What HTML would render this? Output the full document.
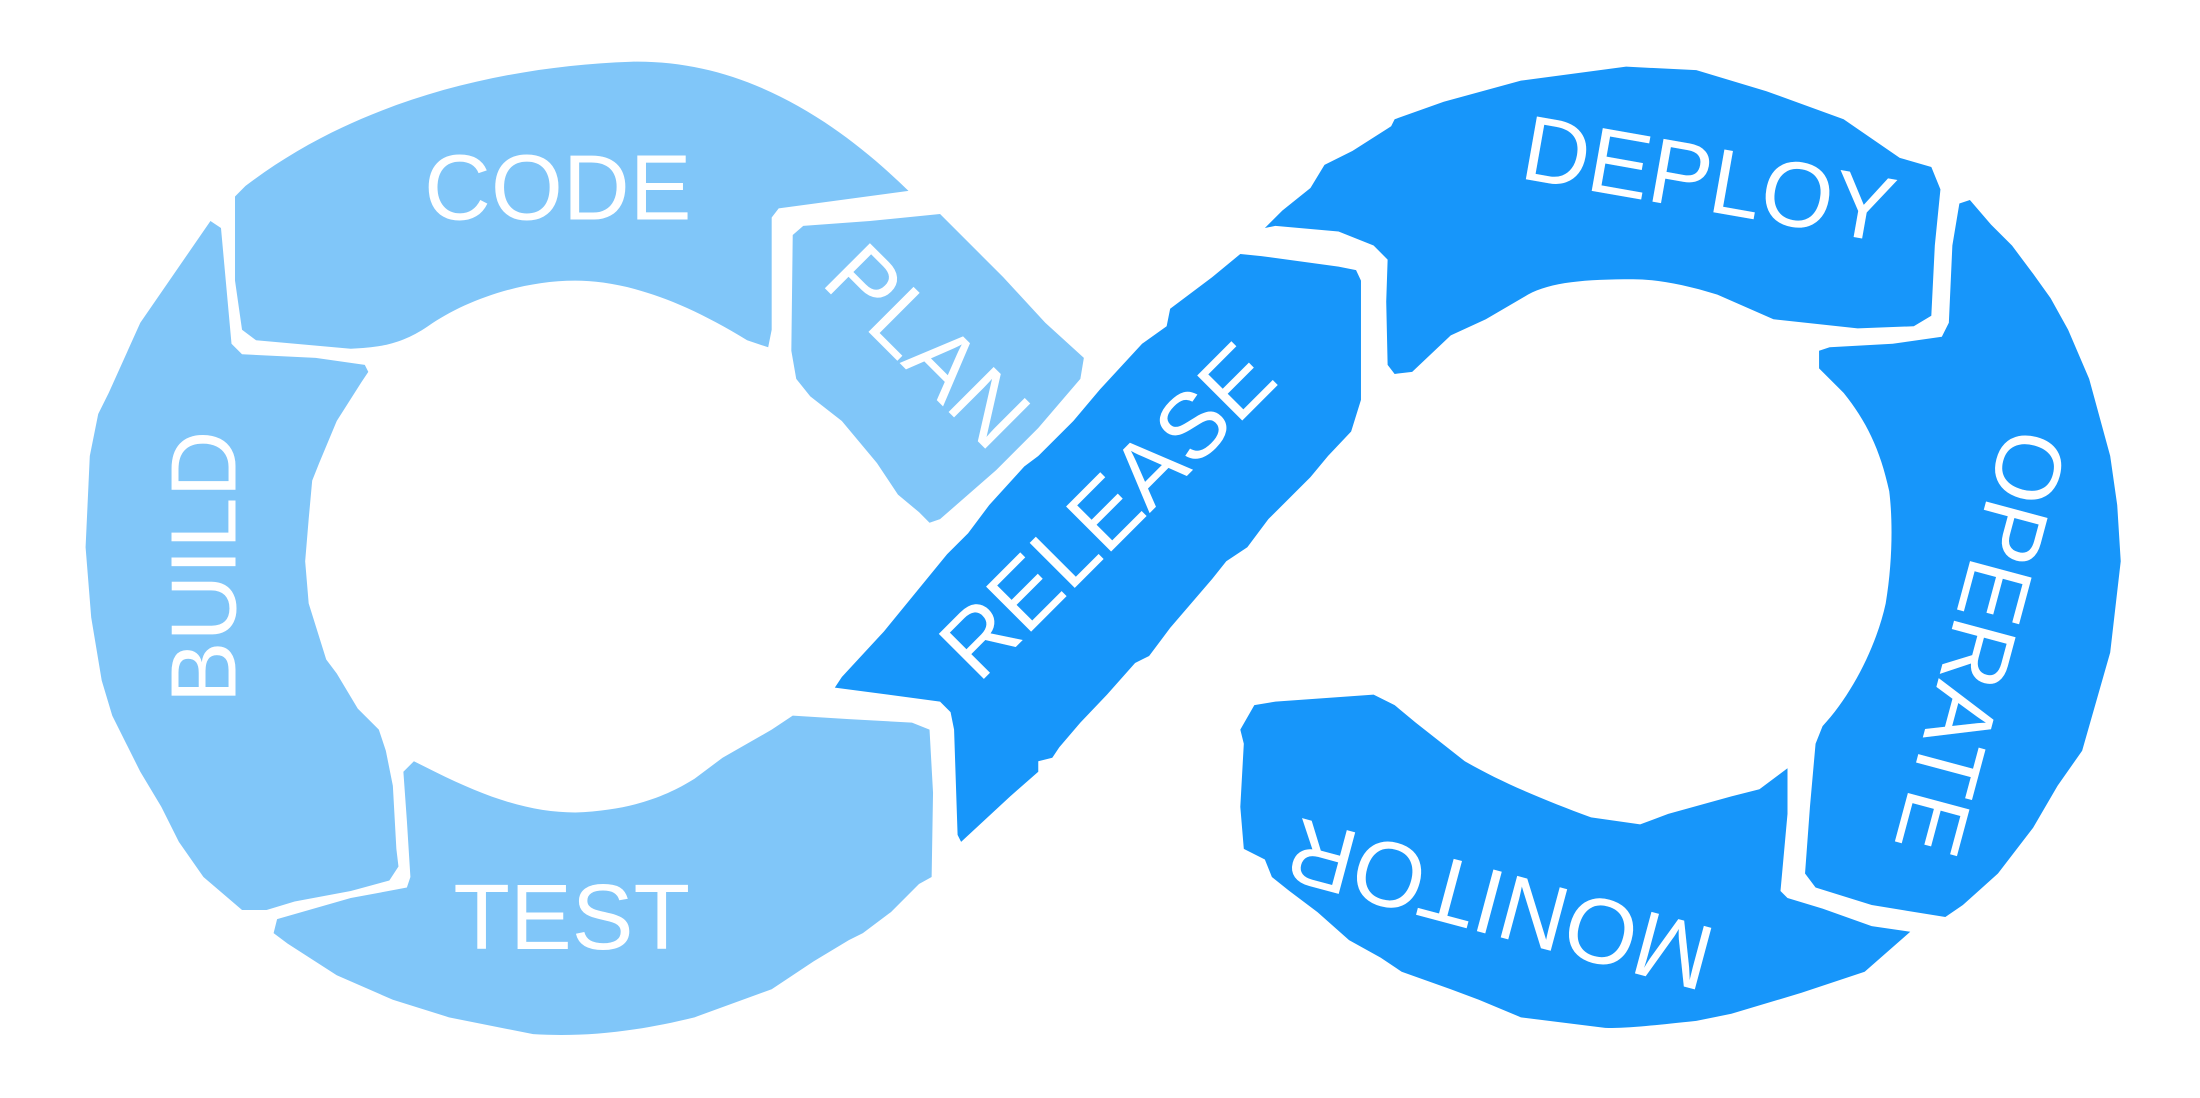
<!DOCTYPE html>
<html><head><meta charset="utf-8"><style>
html,body{margin:0;padding:0;background:#fff;}
svg{display:block;}
text{font-family:"Liberation Sans",sans-serif;fill:#fff;}
</style></head><body>
<svg width="2200" height="1098" viewBox="0 0 3136 1565" preserveAspectRatio="none" xmlns="http://www.w3.org/2000/svg">
<g fill="#80C6F9">
<path d="M335,280 L350,265 C500,150 700,95 900,88 C1050,85 1180,160 1295,272 L1110,297 L1100,310 L1100,470 L1095,495 L1065,485 C960,420 880,400 820,400 C740,400 660,430 610,465 C570,492 540,495 500,497 L365,485 L345,470 L335,400 Z"/>
<path d="M300,315 L315,325 L320,380 L330,490 L345,505 L450,510 L520,520 L525,530 L515,545 L480,600 L455,660 L445,685 L440,740 L435,800 L440,860 L465,940 L480,960 L510,1010 L540,1040 L550,1070 L560,1120 L565,1210 L568,1235 L555,1255 L500,1270 L420,1285 L380,1297 L345,1297 L290,1250 L255,1200 L230,1150 L200,1100 L180,1060 L160,1020 L145,970 L130,880 L122,780 L128,650 L140,590 L155,560 L200,460 Z"/>
<path d="M575,1100 L590,1085 L620,1100 C700,1140 760,1158 820,1158 C900,1155 950,1135 990,1110 L1030,1080 L1100,1040 L1130,1020 L1210,1025 L1300,1030 L1325,1040 L1330,1130 L1328,1250 L1310,1260 L1270,1300 L1230,1330 L1210,1340 L1160,1370 L1100,1410 L990,1450 C900,1472 830,1478 760,1474 L640,1450 L560,1425 L480,1390 L410,1345 L390,1330 L395,1310 L500,1280 L580,1265 L585,1250 L580,1170 Z"/>
<path d="M1130,335 L1145,322 L1240,315 L1340,305 L1400,365 L1430,395 L1490,460 L1545,510 L1540,540 L1480,610 L1420,670 L1340,740 L1325,745 L1310,730 L1280,705 L1250,660 L1200,600 L1155,565 L1135,540 L1128,500 Z"/>
</g>
<g fill="#1796FA">
<path d="M1190,980 L1200,965 L1260,900 L1350,790 L1380,760 L1410,720 L1460,665 L1480,650 L1530,600 L1568,555 L1628,490 L1663,465 L1668,440 L1728,395 L1768,362 L1798,365 L1908,380 L1933,385 L1940,400 L1940,570 L1926,615 L1893,650 L1868,680 L1848,700 L1808,740 L1778,780 L1748,800 L1728,825 L1698,860 L1668,895 L1638,935 L1618,945 L1578,990 L1540,1030 L1510,1065 L1500,1080 L1480,1085 L1480,1100 L1440,1135 L1370,1200 L1365,1190 L1360,1040 L1355,1015 L1340,1000 Z"/>
<path d="M1803,325 L1828,300 L1868,268 L1888,235 L1928,215 L1983,180 L1988,170 L2058,145 L2168,115 L2318,95 L2418,100 L2518,130 L2628,170 L2708,225 L2753,238 L2766,270 L2758,350 L2753,450 L2728,465 L2648,468 L2528,455 L2448,420 C2400,405 2360,398 2328,398 C2260,398 2210,402 2178,420 L2118,455 L2068,478 L2013,530 L1988,533 L1978,520 L1976,430 L1978,370 L1958,350 L1908,330 L1818,322 Z"/>
<path d="M2793,290 L2808,285 L2838,320 L2868,350 L2898,390 L2923,425 L2948,470 L2978,540 L3008,650 L3018,720 L3023,800 L3008,930 L2968,1070 L2933,1120 L2898,1180 L2848,1245 L2798,1290 L2773,1307 L2668,1290 L2588,1265 L2573,1245 L2580,1150 L2588,1060 L2598,1035 C2640,990 2675,920 2688,860 C2698,800 2698,740 2693,700 C2680,640 2660,600 2628,560 L2593,525 L2593,500 L2608,495 L2698,490 L2768,480 L2778,460 L2783,350 Z"/>
<path d="M1768,1040 L1788,1005 L1818,1000 L1958,990 L1988,1005 L2018,1030 L2088,1085 C2140,1115 2200,1140 2268,1165 L2338,1175 L2378,1160 L2468,1135 L2508,1125 L2548,1095 L2548,1160 L2538,1270 L2548,1280 L2598,1295 L2668,1320 L2723,1328 L2658,1385 L2568,1415 L2468,1445 L2418,1455 C2350,1462 2320,1466 2288,1465 L2168,1450 L2108,1425 L2068,1410 L1998,1385 L1968,1365 L1923,1340 L1878,1300 L1838,1270 L1813,1250 L1803,1225 L1773,1210 L1768,1150 L1773,1060 Z"/>
</g>
<g font-size="132">
<text x="795" y="313" text-anchor="middle">CODE</text>
<text x="815" y="1353" text-anchor="middle">TEST</text>
<text transform="translate(336,808) rotate(-90)" text-anchor="middle">BUILD</text>
<text transform="translate(1290,525) rotate(45)" text-anchor="middle">PLAN</text>
<text transform="translate(1610,760) rotate(-45)" text-anchor="middle">RELEASE</text>
<text transform="translate(2428,300) rotate(10)" text-anchor="middle">DEPLOY</text>
<text transform="translate(2780,905) rotate(105)" text-anchor="middle">OPERATE</text>
<text transform="translate(2150,1245) rotate(195)" text-anchor="middle">MONITOR</text>
</g>
</svg>
</body></html>
